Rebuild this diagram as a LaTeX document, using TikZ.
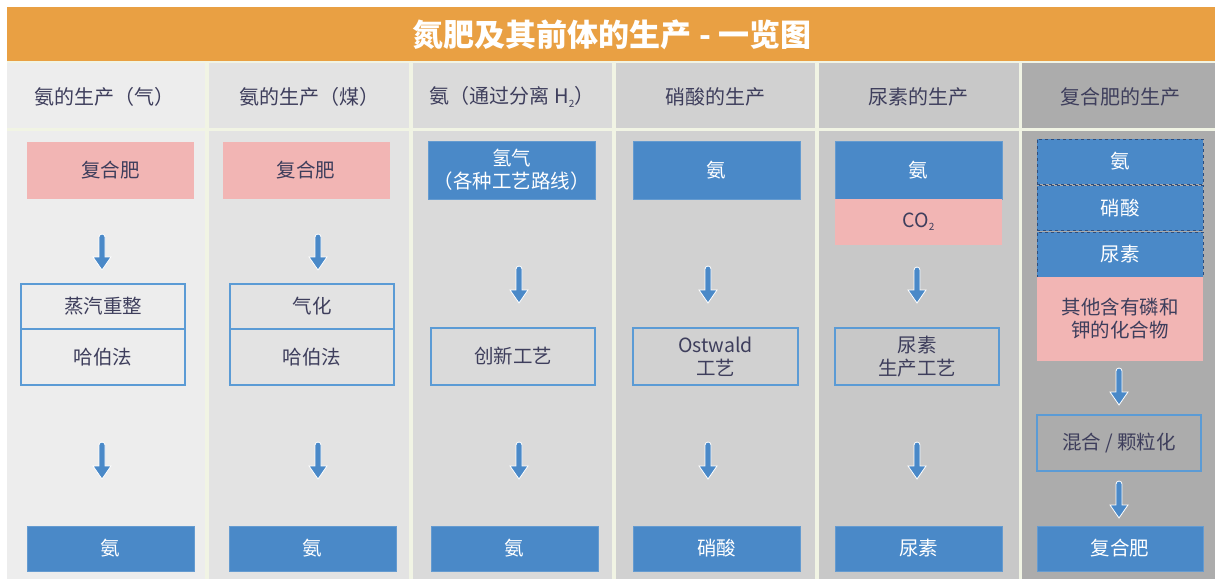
\documentclass[tikz,border=0pt]{standalone}
\usepackage{fontspec}
\setmainfont{Noto Sans CJK SC}
\usetikzlibrary{arrows.meta,calc}
\definecolor{orangebar}{HTML}{E9A043}
\definecolor{gapcol}{HTML}{F1F4E4}
\definecolor{cA}{HTML}{EDEDED}
\definecolor{cB}{HTML}{E3E3E3}
\definecolor{cC}{HTML}{DADADA}
\definecolor{cD}{HTML}{D1D1D1}
\definecolor{cE}{HTML}{C8C8C8}
\definecolor{cF}{HTML}{ACACAC}
\definecolor{bluefill}{HTML}{4A89C8}
\definecolor{pinkfill}{HTML}{F2B5B4}
\definecolor{outl}{HTML}{5B9BD5}
\definecolor{darktext}{HTML}{3E3E5C}
\definecolor{dashcol}{HTML}{2E4D7C}
\newcommand{\subsc}[1]{\raisebox{-0.3ex}{\fontsize{10}{10}\selectfont #1}}
\tikzset{
  txt/.style={font=\fontsize{19.5}{23}\selectfont, align=center, inner sep=0pt},
  hdr/.style={txt, font=\fontsize{20}{23}\selectfont, text=darktext},
  bluebox/.style={txt, fill=bluefill, draw=bluefill!85!white, line width=0.6pt, text=white, minimum width=167, minimum height=57},
  pinkbox/.style={txt, fill=pinkfill, text=darktext, minimum width=167, minimum height=57},
  outbox/.style={txt, draw=outl, line width=1.5pt, text=darktext, minimum width=164, minimum height=56},
  dashbox/.style={bluebox, draw=dashcol, dashed, line width=1pt, minimum width=166, minimum height=45},
  flowarrow/.style={fill=bluefill, draw=white, line width=0.8pt, line join=miter}
}
\begin{document}
\begin{tikzpicture}[x=1pt,y=-1pt]
\useasboundingbox (0,0) rectangle (1215,579);
\fill[white] (0,0) rectangle (1215,579);
% title bar
\fill[orangebar] (7,7) rectangle (1215,61);
\node[font=\fontsize{31}{34}\selectfont\bfseries, text=white, inner sep=0pt] (title) at (612,35) {氮肥及其前体的生产 - 一览图};
% gaps
\fill[gapcol] (7,61) rectangle (1215,579);
% column backgrounds
\foreach \xa/\xb/\c in {7/205/cA, 209/409/cB, 413/612/cC, 616/815/cD, 819/1019/cE, 1022/1215/cF}{
  \fill[\c] (\xa,63) rectangle (\xb,128);
  \fill[\c] (\xa,131) rectangle (\xb,579);
}
% headers
\node[hdr] (h1) at (104,97) {氨的生产（气）};
\node[hdr] (h2) at (309,97) {氨的生产（煤）};
\node[hdr] (h3) at (512,97) {氨（通过分离 H\subsc{2}）};
\node[hdr] (h4) at (715,97) {硝酸的生产};
\node[hdr] (h5) at (918,97) {尿素的生产};
\node[hdr] (h6) at (1120,97) {复合肥的生产};
% column 1
\node[pinkbox] (p1) at (110.5,170) {复合肥};
\node[outbox, minimum height=45] (s1) at (103,306.5) {蒸汽重整};
\node[outbox] (hb1) at (103,357) {哈伯法};
\node[bluebox, minimum height=45] (o1) at (110.5,548.5) {氨};
% column 2
\node[pinkbox] (p2) at (306,170) {复合肥};
\node[outbox, minimum height=45] (s2) at (312,306.5) {气化};
\node[outbox] (hb2) at (312,357) {哈伯法};
\node[bluebox, minimum height=45] (o2) at (312.5,548.5) {氨};
% column 3
\node[bluebox, minimum height=58] (i3) at (511.5,170) {氢气\\（各种工艺路线）};
\node[outbox, minimum height=57] (pr3) at (513,356.5) {创新工艺};
\node[bluebox, minimum height=45] (o3) at (514.5,548.5) {氨};
% column 4
\node[bluebox, minimum height=58] (i4) at (716.5,170) {氨};
\node[outbox, minimum height=57, minimum width=165] (pr4) at (715.5,356.5) {Ostwald\\工艺};
\node[bluebox, minimum height=45] (o4) at (716.5,548.5) {硝酸};
% column 5
\node[bluebox, minimum height=58] (i5) at (918.5,170) {氨};
\node[pinkbox, minimum height=46] (c5) at (918.5,222) {CO\subsc{2}};
\node[outbox, minimum height=57, minimum width=164] (pr5) at (917,356.5) {尿素\\生产工艺};
\node[bluebox, minimum height=45] (o5) at (918.5,548.5) {尿素};
% column 6
\node[dashbox] (d1) at (1120,161.5) {氨};
\node[dashbox] (d2) at (1120,208) {硝酸};
\node[dashbox] (d3) at (1120,254.5) {尿素};
\node[pinkbox, minimum width=166, minimum height=84] (pk6) at (1120,319) {其他含有磷和\\钾的化合物};
\node[outbox, minimum height=56] (mx6) at (1119,443) {混合 / 颗粒化};
\node[bluebox, minimum width=166, minimum height=45] (o6) at (1120,548.5) {复合肥};
% arrow coordinates
\coordinate (a1s) at (102,234);  \coordinate (a1e) at (102,270);
\coordinate (a2s) at (318,234);  \coordinate (a2e) at (318,270);
\coordinate (b1s) at (102,442);  \coordinate (b1e) at (102,479);
\coordinate (b2s) at (318,442);  \coordinate (b2e) at (318,479);
\coordinate (a3s) at (519,266);  \coordinate (a3e) at (519,303);
\coordinate (b3s) at (519,442);  \coordinate (b3e) at (519,479);
\coordinate (a4s) at (708,266);  \coordinate (a4e) at (708,303);
\coordinate (b4s) at (708,442);  \coordinate (b4e) at (708,479);
\coordinate (a5s) at (917,267);  \coordinate (a5e) at (917,303);
\coordinate (b5s) at (917,442);  \coordinate (b5e) at (917,479);
\coordinate (a6s) at (1119,368); \coordinate (a6e) at (1119,405);
\coordinate (b6s) at (1119,481); \coordinate (b6e) at (1119,518);
\foreach \s/\e in {a1s/a1e, a2s/a2e, b1s/b1e, b2s/b2e, a3s/a3e, b3s/b3e, a4s/a4e, b4s/b4e, a5s/a5e, b5s/b5e, a6s/a6e, b6s/b6e}{
  \path[flowarrow] let \p1=(\s), \p2=(\e) in
    (\x1-3pt,\y1-3pt) arc[start angle=180, end angle=0, radius=3pt]
    -- (\x1+3pt,\y2+13pt) -- (\x1+9pt,\y2+13pt) -- (\x1,\y2)
    -- (\x1-9pt,\y2+13pt) -- (\x1-3pt,\y2+13pt) -- cycle;
}
\end{tikzpicture}
\end{document}
